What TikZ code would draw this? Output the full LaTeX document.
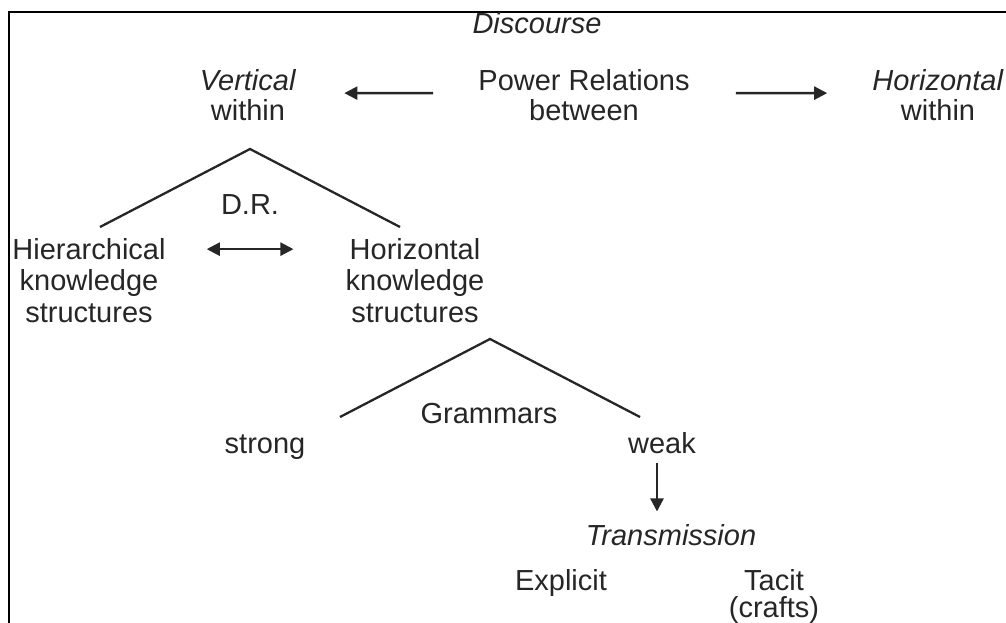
\documentclass[tikz,border=0pt]{standalone}
\usepackage{fontspec}
\setmainfont{Liberation Sans}
\usetikzlibrary{arrows.meta}
\begin{document}
\begin{tikzpicture}[x=1pt,y=-1pt,
  lbl/.style={anchor=base,align=center,inner sep=3.3pt,text=black!85,
    font=\fontsize{29}{30}\selectfont},
  wide/.style={font=\fontsize{29}{31.5}\selectfont},
  tight/.style={font=\fontsize{29}{27}\selectfont},
  ln/.style={line width=2.3pt,draw=black!85},
  arr/.style={ln,-{Triangle[length=13pt,width=13pt]}},
  dbl/.style={ln,{Triangle[length=13pt,width=13pt]}-{Triangle[length=13pt,width=13pt]}}]
\useasboundingbox (0,0) rectangle (1006,623);
\begin{scope}
\clip (0,0) rectangle (1006,623);
% frame (open to the right and bottom)
\draw[line width=2.6pt] (9,640) -- (9,12) -- (1020,12);

% top row (a node's base is the baseline of its last line)
\node[lbl] (disc) at (537,34) {\textit{Discourse}};
\node[lbl] (vert) at (248,121) {\textit{Vertical}\\within};
\node[lbl] (pr) at (584,121) {Power Relations\\between};
\node[lbl] (horiz) at (938,121) {\textit{Horizontal}\\within};
\draw[arr,shorten <=41.7pt,shorten >=44.7pt] ([yshift=2.5pt]pr.west) -- ([yshift=2.5pt]vert.east);
\draw[arr,shorten <=42.7pt,shorten >=41.7pt] ([yshift=2.5pt]pr.east) -- ([yshift=2.5pt]horiz.west);

% knowledge structures
\coordinate (t1top) at (250,149);
\coordinate (t1l) at (100,227);
\coordinate (t1r) at (400,227);
\draw[ln] (t1l) -- (t1top) -- (t1r);
\node[lbl] (dr) at (250,214) {D.R.};
\node[lbl,wide] (hier) at (89,322) {Hierarchical\\knowledge\\structures};
\node[lbl,wide] (hks) at (415,322) {Horizontal\\knowledge\\structures};
\draw[dbl,shorten <=37.7pt,shorten >=48.7pt] ([yshift=31pt]hier.east) -- ([yshift=31pt]hks.west);

% grammars
\coordinate (t2top) at (490,339);
\coordinate (t2l) at (340,417);
\coordinate (t2r) at (640,417);
\draw[ln] (t2l) -- (t2top) -- (t2r);
\node[lbl] (gram) at (489,423) {Grammars};
\node[lbl] (strong) at (265,453) {strong};
\node[lbl] (weak) at (662,453) {weak};

% transmission
\node[lbl] (trans) at (671,545) {\textit{Transmission}};
\draw[arr,shorten <=6.7pt,shorten >=9pt] ([xshift=-5pt]weak.south) -- ([xshift=-5pt]weak.south |- trans.north);
\node[lbl] (expl) at (561,590) {Explicit};
\node[lbl,tight] (tacit) at (774,617) {Tacit\\(crafts)};
\end{scope}
\end{tikzpicture}
\end{document}
